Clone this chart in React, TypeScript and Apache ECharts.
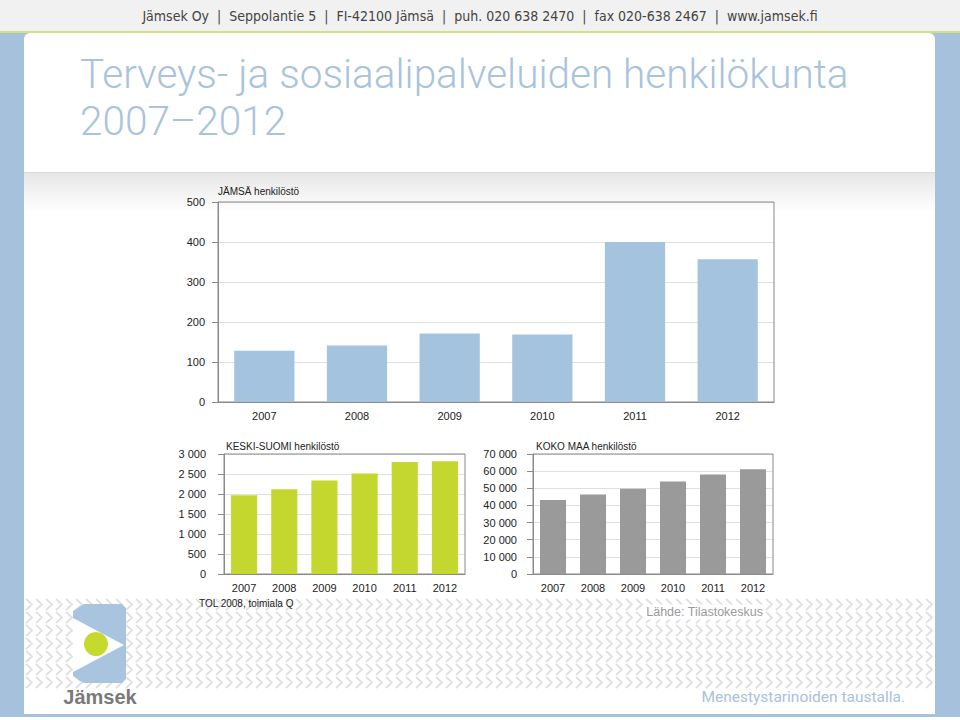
import React, { useEffect, useRef } from "react";
import * as echarts from "echarts";

const years = ["2007", "2008", "2009", "2010", "2011", "2012"];
const jamsaValues = [128, 141, 171, 169, 400, 357];
const keskiSuomiValues = [1970, 2120, 2340, 2510, 2800, 2820];
const kokoMaaValues = [43100, 46400, 49700, 54000, 58000, 61100];
const jamsaScale = [0, 500, 100];
const keskiSuomiScale = [0, 3000, 500];
const kokoMaaScale = [0, 70000, 10000];
const chartTitles = ["JÄMSÄ henkilöstö", "KESKI-SUOMI henkilöstö", "KOKO MAA henkilöstö"];
const mainTitle = ["Terveys- ja sosiaalipalveluiden henkilökunta", "2007–2012"];
const headerText = "Jämsek Oy  |  Seppolantie 5  |  FI-42100 Jämsä  |  puh. 020 638 2470  |  fax 020-638 2467  |  www.jamsek.fi";
const noteText = "TOL 2008, toimiala Q";
const sourceText = "Lähde: Tilastokeskus";
const brandText = "Jämsek";
const sloganText = "Menestystarinoiden taustalla.";

const FONT = "'Liberation Sans', Arial, sans-serif";

function fmt(v: number) {
  return String(v).replace(/\B(?=(\d{3})+(?!\d))/g, " ");
}

function buildChevrons() {
  let d = "";
  for (let y = 599; y < 690; y += 13) {
    for (let x = 26; x < 928; x += 10) {
      d += `M${x} ${y}L${x + 6} ${y + 5.5}L${x} ${y + 11}`;
    }
  }
  return d;
}

let registered = false;

export default function App() {
  const ref = useRef<HTMLDivElement>(null);
  useEffect(() => {
    document.body.style.margin = "0";
    if (!registered) {
      echarts.graphic.registerShape("chevrons", echarts.graphic.extendPath(buildChevrons(), {}) as any);
      registered = true;
    }
    const chart = echarts.init(ref.current!, null, { renderer: "svg" });

    const grids = [
      { left: 218, top: 202, width: 556, height: 200 },
      { left: 224, top: 454, width: 241, height: 120 },
      { left: 533, top: 454, width: 240, height: 120 },
    ];
    const labelMargins = [13, 18, 16];
    const scales = [jamsaScale, keskiSuomiScale, kokoMaaScale];
    const values = [jamsaValues, keskiSuomiValues, kokoMaaValues];
    const colors = ["#a3c3de", "#c4d72e", "#9a9a9a"];

    const option: any = {
      animation: false,
      backgroundColor: "#ffffff",
      grid: grids.map((g) => ({ ...g, show: true, borderColor: "#8a8a8a", borderWidth: 1, backgroundColor: "transparent", z: 1 })),
      xAxis: grids.map((_, i) => ({
        type: "category",
        gridIndex: i,
        data: years,
        axisLine: { show: true, lineStyle: { color: "#8a8a8a" } },
        axisTick: { show: false },
        axisLabel: { color: "#222", fontSize: 11, fontFamily: FONT, margin: 8 },
      })),
      yAxis: grids.map((_, i) => ({
        type: "value",
        gridIndex: i,
        min: scales[i][0],
        max: scales[i][1],
        interval: scales[i][2],
        axisLine: { show: true, lineStyle: { color: "#8a8a8a" } },
        axisTick: { show: true, length: 6, lineStyle: { color: "#8a8a8a" } },
        axisLabel: { color: "#222", fontSize: 11, fontFamily: FONT, margin: labelMargins[i], formatter: (v: number) => fmt(v) },
        splitLine: { show: true, lineStyle: { color: "#e0e0e0" } },
      })),
      series: values.map((v, i) => ({
        type: "bar",
        xAxisIndex: i,
        yAxisIndex: i,
        data: v,
        barCategoryGap: "35%",
        itemStyle: { color: colors[i] },
        z: 2,
      })),
      graphic: [
        // header band
        { type: "rect", z: -10, shape: { x: 0, y: 0, width: 960, height: 31 }, style: { fill: "#f1f1f1" } },
        { type: "rect", z: -9, shape: { x: 0, y: 31, width: 960, height: 2 }, style: { fill: "#d5e07e" } },
        // side bars
        { type: "rect", z: -10, shape: { x: 0, y: 33, width: 960, height: 684 }, style: { fill: "#a6c1dc" } },
        { type: "rect", z: -9, shape: { x: 24, y: 33, width: 911, height: 681, r: [6, 6, 0, 0] }, style: { fill: "#ffffff" } },
        { type: "rect", z: -10, shape: { x: 0, y: 717, width: 960, height: 3 }, style: { fill: "#ffffff" } },
        // chart band gradient
        {
          type: "rect",
          z: -8,
          shape: { x: 24, y: 172, width: 911, height: 40 },
          style: {
            fill: new echarts.graphic.LinearGradient(0, 0, 0, 1, [
              { offset: 0, color: "#e6e6e6" },
              { offset: 1, color: "#ffffff" },
            ]),
          },
        },
        { type: "rect", z: -7, shape: { x: 24, y: 172, width: 911, height: 1 }, style: { fill: "#dadada" } },
        // chevron pattern
        { type: "chevrons", z: -7, x: 0, y: 0, style: { fill: "none", stroke: "#e0e0e0", lineWidth: 1.8 } },
        // header text
        { type: "text", z: 50, x: 480, y: 16, style: { text: headerText, fill: "#444", font: "14px 'Liberation Sans Narrow', 'DejaVu Sans Condensed', sans-serif", textAlign: "center", textVerticalAlign: "middle" } },
        // main title
        { type: "text", z: 50, x: 80, y: 74, style: { text: mainTitle[0], fill: "#a9c3dc", font: "300 40.5px Roboto, 'Liberation Sans', sans-serif", textAlign: "left", textVerticalAlign: "middle" } },
        { type: "text", z: 50, x: 80, y: 121, style: { text: mainTitle[1], fill: "#a9c3dc", font: "300 40.5px Roboto, 'Liberation Sans', sans-serif", textAlign: "left", textVerticalAlign: "middle" } },
        // chart titles
        { type: "text", z: 50, x: 218, y: 191, style: { text: chartTitles[0], fill: "#222", font: `10px ${FONT}`, textVerticalAlign: "middle" } },
        { type: "text", z: 50, x: 226, y: 446, style: { text: chartTitles[1], fill: "#222", font: `10px ${FONT}`, textVerticalAlign: "middle" } },
        { type: "text", z: 50, x: 536, y: 446, style: { text: chartTitles[2], fill: "#222", font: `10px ${FONT}`, textVerticalAlign: "middle" } },
        { type: "text", z: 50, x: 199, y: 603, style: { text: noteText, fill: "#222", font: `10px ${FONT}`, textVerticalAlign: "middle" } },
        { type: "text", z: 50, x: 765, y: 612, style: { text: sourceText, fill: "#9a9a9a", font: `12.5px ${FONT}`, textAlign: "right", textVerticalAlign: "middle", backgroundColor: "#ffffff", padding: [1, 2] } },
        // logo
        {
          type: "polygon",
          z: 10,
          shape: { points: [[84, 604], [122, 604], [126, 608], [126, 679], [122, 683], [84, 683], [73, 676], [73, 611]] },
          style: { fill: "#a9c4df" },
        },
        { type: "polygon", z: 11, shape: { points: [[73, 618], [124, 645], [73, 672]] }, style: { fill: "#ffffff" } },
        { type: "circle", z: 12, shape: { cx: 96, cy: 644, r: 12 }, style: { fill: "#c6d92f" } },
        { type: "text", z: 50, x: 100, y: 697, style: { text: brandText, fill: "#7a7a7a", font: `bold 20px ${FONT}`, textAlign: "center", textVerticalAlign: "middle" } },
        { type: "text", z: 50, x: 905, y: 697, style: { text: sloganText, fill: "#a9c2db", font: "15.5px Roboto, 'Liberation Sans', sans-serif", textAlign: "right", textVerticalAlign: "middle" } },
      ],
    };
    chart.setOption(option);
    return () => chart.dispose();
  }, []);
  return <div ref={ref} style={{ position: "fixed", left: 0, top: 0, width: 960, height: 720 }} />;
}
